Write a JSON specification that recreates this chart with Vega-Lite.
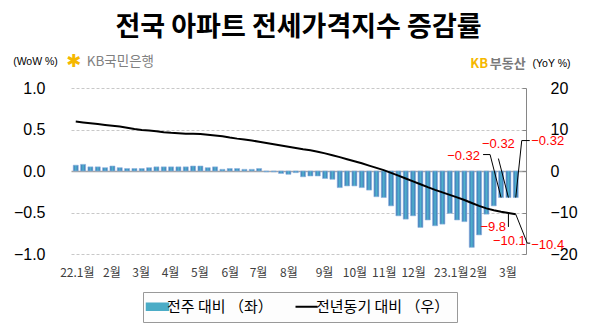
{
  "$schema": "https://vega.github.io/schema/vega-lite/v6.json",
  "width": 455,
  "height": 166,
  "autosize": "none",
  "padding": {"left": 71, "top": 88, "right": 72, "bottom": 79},
  "background": "white",
  "title": {
    "text": "전국 아파트 전세가격지수 증감률",
    "font": "Noto Sans CJK KR",
    "fontSize": 27,
    "fontWeight": "bold",
    "color": "#000000",
    "anchor": "middle",
    "frame": "group",
    "baseline": "bottom",
    "offset": -16
  },
  "config": {"view": {"stroke": null}, "font": "Noto Sans CJK KR", "axis": {"labelOverlap": false}, "legend": {"strokeColor": "#999999", "fillColor": "#fdfdfd"}},
  "data": {
    "values": [
      {"d": "2022-01-17", "wow": 0.07, "yoy": 11.9},
      {"d": "2022-01-24", "wow": 0.08, "yoy": 11.7},
      {"d": "2022-01-31", "wow": 0.05, "yoy": 11.5},
      {"d": "2022-02-07", "wow": 0.05, "yoy": 11.3},
      {"d": "2022-02-14", "wow": 0.04, "yoy": 11.1},
      {"d": "2022-02-21", "wow": 0.06, "yoy": 10.9},
      {"d": "2022-02-28", "wow": 0.04, "yoy": 10.7},
      {"d": "2022-03-07", "wow": 0.03, "yoy": 10.4},
      {"d": "2022-03-14", "wow": 0.03, "yoy": 10.1},
      {"d": "2022-03-21", "wow": 0.03, "yoy": 9.9},
      {"d": "2022-03-28", "wow": 0.04, "yoy": 9.75},
      {"d": "2022-04-04", "wow": 0.05, "yoy": 9.55},
      {"d": "2022-04-11", "wow": 0.05, "yoy": 9.35},
      {"d": "2022-04-18", "wow": 0.05, "yoy": 9.2},
      {"d": "2022-04-25", "wow": 0.05, "yoy": 9.1},
      {"d": "2022-05-02", "wow": 0.05, "yoy": 9.0},
      {"d": "2022-05-09", "wow": 0.06, "yoy": 8.95},
      {"d": "2022-05-16", "wow": 0.06, "yoy": 8.9},
      {"d": "2022-05-23", "wow": 0.04, "yoy": 8.75},
      {"d": "2022-05-30", "wow": 0.05, "yoy": 8.55},
      {"d": "2022-06-06", "wow": 0.02, "yoy": 8.35},
      {"d": "2022-06-13", "wow": 0.03, "yoy": 8.05},
      {"d": "2022-06-20", "wow": 0.03, "yoy": 7.8},
      {"d": "2022-06-27", "wow": 0.02, "yoy": 7.6},
      {"d": "2022-07-04", "wow": 0.02, "yoy": 7.35},
      {"d": "2022-07-11", "wow": 0.03, "yoy": 7.05},
      {"d": "2022-07-18", "wow": -0.01, "yoy": 6.75},
      {"d": "2022-07-25", "wow": -0.01, "yoy": 6.45},
      {"d": "2022-08-01", "wow": -0.03, "yoy": 6.15},
      {"d": "2022-08-08", "wow": -0.04, "yoy": 5.85},
      {"d": "2022-08-15", "wow": -0.02, "yoy": 5.55},
      {"d": "2022-08-22", "wow": -0.07, "yoy": 5.25},
      {"d": "2022-08-29", "wow": -0.06, "yoy": 5.0},
      {"d": "2022-09-05", "wow": -0.06, "yoy": 4.65},
      {"d": "2022-09-12", "wow": -0.09, "yoy": 4.25},
      {"d": "2022-09-19", "wow": -0.10, "yoy": 3.8},
      {"d": "2022-09-26", "wow": -0.20, "yoy": 3.35},
      {"d": "2022-10-03", "wow": -0.18, "yoy": 2.85},
      {"d": "2022-10-10", "wow": -0.18, "yoy": 2.35},
      {"d": "2022-10-17", "wow": -0.20, "yoy": 1.85},
      {"d": "2022-10-24", "wow": -0.23, "yoy": 1.3},
      {"d": "2022-10-31", "wow": -0.31, "yoy": 0.75},
      {"d": "2022-11-07", "wow": -0.32, "yoy": 0.2},
      {"d": "2022-11-14", "wow": -0.42, "yoy": -0.45},
      {"d": "2022-11-21", "wow": -0.54, "yoy": -1.1},
      {"d": "2022-11-28", "wow": -0.58, "yoy": -1.8},
      {"d": "2022-12-05", "wow": -0.54, "yoy": -2.5},
      {"d": "2022-12-12", "wow": -0.68, "yoy": -3.2},
      {"d": "2022-12-19", "wow": -0.59, "yoy": -3.9},
      {"d": "2022-12-26", "wow": -0.66, "yoy": -4.55},
      {"d": "2023-01-02", "wow": -0.64, "yoy": -5.15},
      {"d": "2023-01-09", "wow": -0.51, "yoy": -5.75},
      {"d": "2023-01-16", "wow": -0.59, "yoy": -6.35},
      {"d": "2023-01-23", "wow": -0.61, "yoy": -7.0},
      {"d": "2023-01-30", "wow": -0.92, "yoy": -7.7},
      {"d": "2023-02-06", "wow": -0.77, "yoy": -8.4},
      {"d": "2023-02-13", "wow": -0.52, "yoy": -9.0},
      {"d": "2023-02-20", "wow": -0.42, "yoy": -9.45},
      {"d": "2023-02-27", "wow": -0.32, "yoy": -9.8},
      {"d": "2023-03-06", "wow": -0.32, "yoy": -10.1},
      {"d": "2023-03-13", "wow": -0.32, "yoy": -10.4}
    ]
  },
  "encoding": {
    "x": {
      "field": "d",
      "type": "temporal",
      "scale": {"type": "utc", "nice": false, "padding": 0, "domain": [{"year": 2022, "month": 1, "date": 12, "hours": 11, "utc": true}, {"year": 2023, "month": 3, "date": 22, "hours": 19, "utc": true}]},
      "axis": {
        "orient": "bottom",
        "title": null,
        "values": [
          {"year": 2022, "month": 1, "date": 18, "utc": true},
          {"year": 2022, "month": 2, "date": 20, "utc": true},
          {"year": 2022, "month": 3, "date": 20, "utc": true},
          {"year": 2022, "month": 4, "date": 17, "utc": true},
          {"year": 2022, "month": 5, "date": 15, "utc": true},
          {"year": 2022, "month": 6, "date": 13, "utc": true},
          {"year": 2022, "month": 7, "date": 10, "utc": true},
          {"year": 2022, "month": 8, "date": 8, "utc": true},
          {"year": 2022, "month": 9, "date": 11, "utc": true},
          {"year": 2022, "month": 10, "date": 10, "utc": true},
          {"year": 2022, "month": 11, "date": 7, "utc": true},
          {"year": 2022, "month": 12, "date": 5, "utc": true},
          {"year": 2023, "month": 1, "date": 10, "utc": true},
          {"year": 2023, "month": 2, "date": 5, "utc": true},
          {"year": 2023, "month": 3, "date": 5, "utc": true}
        ],
        "labelExpr": "utcmonth(datum.value) == 0 ? (utcyear(datum.value) % 100) + '.1월' : (utcmonth(datum.value) + 1) + '월'",
        "domain": false,
        "ticks": false,
        "tickSize": 0,
        "grid": false,
        "labelPadding": 13,
        "labelFont": "Noto Sans CJK KR",
        "labelFontSize": 12,
        "labelColor": "#404040",
        "labelOverlap": false,
        "labelFlush": false,
        "labelBound": false
      }
    }
  },
  "layer": [
    {
      "layer": [
        {
          "mark": {
            "type": "bar",
            "size": 5,
            "fill": {"gradient": "linear", "x1": 0, "y1": 0, "x2": 1, "y2": 0, "stops": [{"offset": 0, "color": "#3e6fb7"}, {"offset": 0.5, "color": "#4fb3cc"}, {"offset": 1, "color": "#3e6fb7"}]},
            "stroke": "#8fb4df",
            "strokeWidth": 0.6
          },
          "encoding": {
            "y": {
              "field": "wow",
              "type": "quantitative",
              "scale": {"domain": [-1, 1], "nice": false, "zero": false},
              "axis": {
                "orient": "left",
                "values": [-1, -0.5, 0, 0.5, 1],
                "format": ".1f",
                "domain": false,
                "ticks": false,
                "tickSize": 0,
                "labelPadding": 26,
                "labelFont": "Liberation Sans",
                "labelFontSize": 16,
                "labelColor": "#000000",
                "grid": true,
                "gridColor": {"condition": {"test": "datum.value === 0", "value": "#a6a6a6"}, "value": "#c8c8c8"},
                "gridDash": {"condition": {"test": "datum.value === 0", "value": []}, "value": [3, 2]},
                "gridWidth": {"condition": {"test": "datum.value === 0", "value": 1.5}, "value": 1},
                "title": "(WoW %)",
                "titleAngle": 0,
                "titleX": -36,
                "titleY": -27,
                "titleAlign": "center",
                "titleBaseline": "middle",
                "titleFont": "Liberation Sans",
                "titleFontSize": 10.5,
                "titleFontWeight": "normal",
                "titleColor": "#000000"
              }
            }
          }
        },
        {
          "transform": [{"filter": "utcFormat(datum.d, '%Y-%m-%d') == '2023-02-27'"}],
          "mark": {"type": "text", "align": "right", "baseline": "middle", "dx": -21, "dy": -42, "color": "#ff0000", "font": "Liberation Sans", "fontSize": 13},
          "encoding": {"y": {"field": "wow", "type": "quantitative"}, "text": {"field": "wow", "type": "quantitative", "format": ".2f"}}
        },
        {
          "transform": [{"filter": "utcFormat(datum.d, '%Y-%m-%d') == '2023-02-27'"}],
          "mark": {"type": "rule", "color": "#000000", "strokeWidth": 1, "x2Offset": -11, "y2Offset": -43},
          "encoding": {"y": {"field": "wow", "type": "quantitative"}, "x2": {"field": "d"}, "y2": {"field": "wow"}}
        },
        {
          "transform": [{"filter": "utcFormat(datum.d, '%Y-%m-%d') == '2023-02-27'"}],
          "mark": {"type": "rule", "color": "#000000", "strokeWidth": 1, "xOffset": -11, "yOffset": -43, "x2Offset": -18, "y2Offset": -43},
          "encoding": {"y": {"field": "wow", "type": "quantitative"}, "x2": {"field": "d"}, "y2": {"field": "wow"}}
        },
        {
          "transform": [{"filter": "utcFormat(datum.d, '%Y-%m-%d') == '2023-03-06'"}],
          "mark": {"type": "text", "align": "center", "baseline": "middle", "dx": -10, "dy": -54, "color": "#ff0000", "font": "Liberation Sans", "fontSize": 13},
          "encoding": {"y": {"field": "wow", "type": "quantitative"}, "text": {"field": "wow", "type": "quantitative", "format": ".2f"}}
        },
        {
          "transform": [{"filter": "utcFormat(datum.d, '%Y-%m-%d') == '2023-03-06'"}],
          "mark": {"type": "rule", "color": "#000000", "strokeWidth": 1, "x2Offset": -10, "y2Offset": -39},
          "encoding": {"y": {"field": "wow", "type": "quantitative"}, "x2": {"field": "d"}, "y2": {"field": "wow"}}
        },
        {
          "transform": [{"filter": "utcFormat(datum.d, '%Y-%m-%d') == '2023-03-13'"}],
          "mark": {"type": "text", "align": "left", "baseline": "middle", "dx": 15.5, "dy": -57, "color": "#ff0000", "font": "Liberation Sans", "fontSize": 13},
          "encoding": {"y": {"field": "wow", "type": "quantitative"}, "text": {"field": "wow", "type": "quantitative", "format": ".2f"}}
        },
        {
          "transform": [{"filter": "utcFormat(datum.d, '%Y-%m-%d') == '2023-03-13'"}],
          "mark": {"type": "rule", "color": "#000000", "strokeWidth": 1, "x2Offset": 6, "y2Offset": -57},
          "encoding": {"y": {"field": "wow", "type": "quantitative"}, "x2": {"field": "d"}, "y2": {"field": "wow"}}
        },
        {
          "transform": [{"filter": "utcFormat(datum.d, '%Y-%m-%d') == '2023-03-13'"}],
          "mark": {"type": "rule", "color": "#000000", "strokeWidth": 1, "xOffset": 6, "yOffset": -57, "x2Offset": 14, "y2Offset": -57},
          "encoding": {"y": {"field": "wow", "type": "quantitative"}, "x2": {"field": "d"}, "y2": {"field": "wow"}}
        },
        {
          "transform": [{"filter": "utcFormat(datum.d, '%Y-%m-%d') == '2022-01-17'"}],
          "mark": {"type": "text", "text": "✱", "align": "center", "baseline": "middle", "dx": -2, "color": "#f5b800", "font": "DejaVu Sans", "fontSize": 18, "fontWeight": "bold"},
          "encoding": {"y": {"datum": 1.317, "type": "quantitative"}}
        },
        {
          "transform": [{"filter": "utcFormat(datum.d, '%Y-%m-%d') == '2022-01-17'"}],
          "mark": {"type": "text", "text": "KB국민은행", "align": "left", "baseline": "middle", "dx": 11, "color": "#808080", "font": "Noto Sans CJK KR", "fontSize": 13.5},
          "encoding": {"y": {"datum": 1.317, "type": "quantitative"}}
        },
        {
          "transform": [{"filter": "utcFormat(datum.d, '%Y-%m-%d') == '2023-03-13'"}],
          "mark": {"type": "text", "text": "KB", "align": "left", "baseline": "middle", "dx": -45.5, "color": "#f5b800", "font": "Noto Sans CJK KR", "fontSize": 13, "fontWeight": "bold"},
          "encoding": {"y": {"datum": 1.289, "type": "quantitative"}}
        },
        {
          "transform": [{"filter": "utcFormat(datum.d, '%Y-%m-%d') == '2023-03-13'"}],
          "mark": {"type": "text", "text": "부동산", "align": "left", "baseline": "middle", "dx": -26, "color": "#7a7a7a", "font": "Noto Sans CJK KR", "fontSize": 13, "fontWeight": "bold"},
          "encoding": {"y": {"datum": 1.289, "type": "quantitative"}}
        }
      ]
    },
    {
      "layer": [
        {
          "mark": {"type": "line", "strokeWidth": 2},
          "encoding": {
            "y": {
              "field": "yoy",
              "type": "quantitative",
              "scale": {"domain": [-20, 20], "nice": false, "zero": false},
              "axis": {
                "orient": "right",
                "values": [-20, -10, 0, 10, 20],
                "format": "d",
                "domain": true,
                "domainColor": "#868686",
                "domainWidth": 1,
                "ticks": true,
                "tickSize": -4,
                "tickColor": "#868686",
                "labelPadding": 28,
                "labelFont": "Liberation Sans",
                "labelFontSize": 16,
                "labelColor": "#000000",
                "grid": false,
                "title": "(YoY %)",
                "titleAngle": 0,
                "titleX": 25,
                "titleY": -25,
                "titleAlign": "center",
                "titleBaseline": "middle",
                "titleFont": "Liberation Sans",
                "titleFontSize": 10.5,
                "titleFontWeight": "normal",
                "titleColor": "#000000"
              }
            },
            "color": {
              "datum": "전년동기 대비 （우）",
              "type": "nominal",
              "scale": {"domain": ["전주 대비 （좌）", "전년동기 대비 （우）"], "range": ["#4bacc6", "#000000"]},
              "legend": {
                "orient": "none",
                "legendX": 72,
                "legendY": 204,
                "direction": "horizontal",
                "title": null,
                "labelFont": "Noto Sans CJK KR",
                "labelFontSize": 15,
                "labelColor": "#000000",
                "symbolSize": 484,
                "symbolType": "stroke",
                "symbolStrokeWidth": 2,
                "strokeColor": "#999999",
                "fillColor": "#fdfdfd",
                "padding": 7,
                "columnPadding": 18,
                "labelOffset": 2,
                "encode": {
                  "symbols": {
                    "update": {
                      "shape": {"signal": "datum.value === '전주 대비 （좌）' ? 'M-1,-0.32H1V0.32H-1Z' : 'stroke'"},
                      "fill": {"signal": "datum.value === '전주 대비 （좌）' ? '#4bacc6' : 'transparent'"},
                      "stroke": {"signal": "datum.value === '전주 대비 （좌）' ? '#3c6eb4' : '#000000'"},
                      "strokeWidth": {"signal": "datum.value === '전주 대비 （좌）' ? 1.5 : 2"}
                    }
                  }
                }
              }
            }
          }
        },
        {
          "transform": [{"filter": "utcFormat(datum.d, '%Y-%m-%d') == '2023-02-27'"}],
          "mark": {"type": "text", "align": "right", "baseline": "middle", "dx": 5, "dy": 15.5, "color": "#ff0000", "font": "Liberation Sans", "fontSize": 13},
          "encoding": {"y": {"field": "yoy", "type": "quantitative"}, "text": {"field": "yoy", "type": "quantitative", "format": ".1f"}}
        },
        {
          "transform": [{"filter": "utcFormat(datum.d, '%Y-%m-%d') == '2023-03-06'"}],
          "mark": {"type": "rule", "color": "#000000", "strokeWidth": 1, "yOffset": 1, "y2Offset": 14},
          "encoding": {"y": {"field": "yoy", "type": "quantitative"}, "x2": {"field": "d"}, "y2": {"field": "yoy"}}
        },
        {
          "transform": [{"filter": "utcFormat(datum.d, '%Y-%m-%d') == '2023-03-06'"}],
          "mark": {"type": "text", "align": "center", "baseline": "middle", "dx": 1, "dy": 28, "color": "#ff0000", "font": "Liberation Sans", "fontSize": 13},
          "encoding": {"y": {"field": "yoy", "type": "quantitative"}, "text": {"field": "yoy", "type": "quantitative", "format": ".1f"}}
        },
        {
          "transform": [{"filter": "utcFormat(datum.d, '%Y-%m-%d') == '2023-03-13'"}],
          "mark": {"type": "text", "align": "left", "baseline": "middle", "dx": 15.5, "dy": 31, "color": "#ff0000", "font": "Liberation Sans", "fontSize": 13},
          "encoding": {"y": {"field": "yoy", "type": "quantitative"}, "text": {"field": "yoy", "type": "quantitative", "format": ".1f"}}
        },
        {
          "transform": [{"filter": "utcFormat(datum.d, '%Y-%m-%d') == '2023-03-13'"}],
          "mark": {"type": "rule", "color": "#000000", "strokeWidth": 1, "x2Offset": 11.5, "y2Offset": 29},
          "encoding": {"y": {"field": "yoy", "type": "quantitative"}, "x2": {"field": "d"}, "y2": {"field": "yoy"}}
        },
        {
          "transform": [{"filter": "utcFormat(datum.d, '%Y-%m-%d') == '2023-03-13'"}],
          "mark": {"type": "rule", "color": "#000000", "strokeWidth": 1, "xOffset": 11.5, "yOffset": 29, "x2Offset": 14.5, "y2Offset": 29},
          "encoding": {"y": {"field": "yoy", "type": "quantitative"}, "x2": {"field": "d"}, "y2": {"field": "yoy"}}
        }
      ]
    }
  ],
  "resolve": {"scale": {"y": "independent"}, "axis": {"y": "independent"}}
}
